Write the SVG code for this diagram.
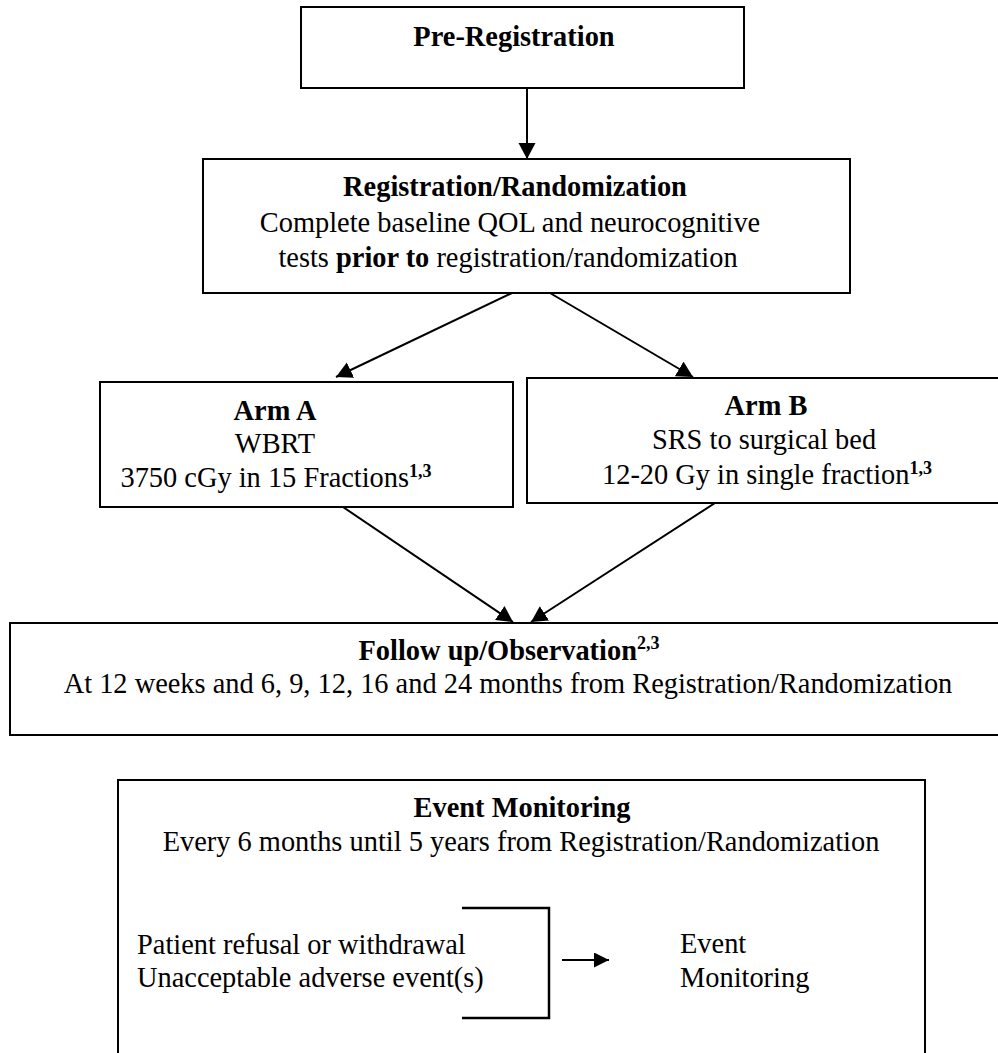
<svg xmlns="http://www.w3.org/2000/svg" width="998" height="1053" viewBox="0 0 998 1053">
<defs>
<marker id="ah" markerUnits="userSpaceOnUse" markerWidth="18" markerHeight="18" refX="16" refY="8.5" orient="auto">
<path d="M0,0 L16,8.5 L0,17 z" fill="#000"/>
</marker>
<marker id="ahs" markerUnits="userSpaceOnUse" markerWidth="16" markerHeight="16" refX="15" refY="7.5" orient="auto">
<path d="M0,0 L15,7.5 L0,15 z" fill="#000"/>
</marker>
<style>
.box{fill:#fff;stroke:#000;stroke-width:2}
.t{font-family:"Liberation Serif","Times New Roman",serif;font-size:28.4px;fill:#000}
.c{text-anchor:middle}
.b{font-weight:bold}
.sup{font-size:18px;font-weight:bold}
.ln{stroke:#000;stroke-width:2;fill:none}
.br{stroke:#000;stroke-width:2.5;fill:none}
</style>
</defs>
<g id="connectors">
<line class="ln" x1="527" y1="88" x2="527" y2="159" marker-end="url(#ah)"/>
<line class="ln" x1="512" y1="293" x2="336" y2="377" marker-end="url(#ah)"/>
<line class="ln" x1="550" y1="293" x2="693" y2="377" marker-end="url(#ah)"/>
<line class="ln" x1="343" y1="507" x2="513" y2="622" marker-end="url(#ah)"/>
<line class="ln" x1="715" y1="503" x2="531" y2="622" marker-end="url(#ah)"/>
</g>
<g id="pre-registration">
<rect class="box" x="301" y="7" width="443" height="81"/>
<text class="t c b" x="514" y="46">Pre-Registration</text>
</g>
<g id="registration">
<rect class="box" x="203" y="159" width="647" height="134"/>
<text class="t c b" x="515" y="196">Registration/Randomization</text>
<text class="t c" x="510" y="232">Complete baseline QOL and neurocognitive</text>
<text class="t c" x="508" y="267">tests <tspan class="b">prior to</tspan> registration/randomization</text>
</g>
<g id="arm-a">
<rect class="box" x="100" y="382" width="413" height="125"/>
<text class="t c b" x="275" y="420">Arm A</text>
<text class="t c" x="275" y="453">WBRT</text>
<text class="t c" x="276" y="487">3750 cGy in 15 Fractions<tspan class="sup" dy="-10">1,3</tspan></text>
</g>
<g id="arm-b">
<rect class="box" x="527" y="378" width="490" height="125"/>
<text class="t c b" x="766" y="415">Arm B</text>
<text class="t c" x="764" y="449">SRS to surgical bed</text>
<text class="t c" x="767" y="484">12-20 Gy in single fraction<tspan class="sup" dy="-10">1,3</tspan></text>
</g>
<g id="follow-up">
<rect class="box" x="10" y="623" width="1005" height="112"/>
<text class="t c b" x="509" y="660">Follow up/Observation<tspan class="sup" dy="-11">2,3</tspan></text>
<text class="t c" x="508" y="693">At 12 weeks and 6, 9, 12, 16 and 24 months from Registration/Randomization</text>
</g>
<g id="event-monitoring">
<path class="box" d="M118,1060 V780 H925 V1060"/>
<text class="t c b" x="522" y="817">Event Monitoring</text>
<text class="t c" x="521" y="851">Every 6 months until 5 years from Registration/Randomization</text>
<text class="t" x="137" y="954">Patient refusal or withdrawal</text>
<text class="t" x="137" y="987">Unacceptable adverse event(s)</text>
<path class="br" d="M462,908 H549 V1018 H462"/>
<line class="ln" x1="562" y1="960" x2="609" y2="960" marker-end="url(#ahs)"/>
<text class="t" x="680" y="953">Event</text>
<text class="t" x="680" y="987">Monitoring</text>
</g>
</svg>
